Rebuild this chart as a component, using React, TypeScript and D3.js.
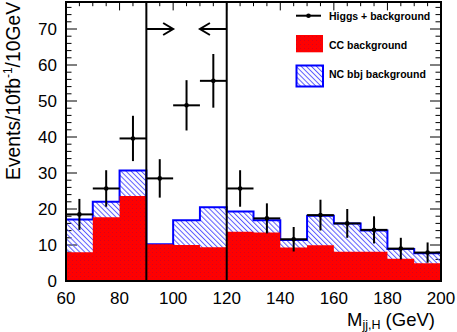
import React from "react";
import * as d3 from "d3";

const binEdges = [60, 70, 80, 90, 100, 110, 120, 130, 140, 150, 160, 170, 180, 190, 200];
const ccBackground = [8.0, 17.7, 23.6, 10.2, 10.0, 9.4, 13.7, 13.5, 9.3, 9.9, 8.1, 8.1, 6.2, 4.9];
const ncBackground = [9.1, 4.3, 7.1, 0.0, 6.9, 11.1, 5.6, 3.4, 2.1, 8.2, 7.9, 5.9, 2.7, 2.8];
const higgsPlusBkg = [18.5, 25.7, 39.6, 28.5, 48.8, 55.6, 25.7, 17.4, 11.6, 18.3, 16.0, 14.2, 9.0, 7.9];
const xTicks = [60, 80, 100, 120, 140, 160, 180, 200];
const yTicks = [0, 10, 20, 30, 40, 50, 60, 70];
const windowEdges = [90, 120];
const legendLabels = ["Higgs + background", "CC background", "NC bbj background"];

const W = 457;
const H = 332;
const L = 66, R = 441, T = 2, B = 281;

export default function App() {
  const x = d3.scaleLinear().domain([60, 200]).range([L, R]);
  const y = d3.scaleLinear().domain([0, 77.5]).range([B, T]);

  const total = ccBackground.map((c, i) => c + ncBackground[i]);

  const stepPts = (vals: number[]) => {
    const pts: [number, number][] = [];
    vals.forEach((v, i) => {
      pts.push([binEdges[i], v]);
      pts.push([binEdges[i + 1], v]);
    });
    return pts;
  };
  const area = d3
    .area<[number, number]>()
    .x((d) => x(d[0]))
    .y0(y(0))
    .y1((d) => y(d[1]));
  const line = d3
    .line<[number, number]>()
    .x((d) => x(d[0]))
    .y((d) => y(d[1]));

  const totalPts = stepPts(total);
  const outlinePts: [number, number][] = [[60, 0], ...totalPts, [200, 0]];

  const xMinor = d3.range(60, 200.01, 5);
  const yMinor = d3.range(0, 77.5, 2);

  const font = "'Liberation Sans', Arial, Helvetica, sans-serif";

  return (
    <svg width={W} height={H} style={{ position: "absolute", left: 0, top: 0, background: "#fff" }} fontFamily={font}>
      <defs>
        <pattern id="hatch" width={3.6} height={3.6} patternUnits="userSpaceOnUse" patternTransform="rotate(-45)">
          <line x1={0.5} y1={0} x2={0.5} y2={3.6} stroke="#5a5aff" strokeWidth={1} />
        </pattern>
        <pattern id="redfill" width={4} height={4} patternUnits="userSpaceOnUse">
          <rect width={4} height={4} fill="#ff0000" />
          <rect x={0} y={0} width={1} height={1} fill="#d8001c" />
          <rect x={2} y={2} width={1} height={1} fill="#e00818" />
        </pattern>
      </defs>

      {/* ticks (drawn under histograms) */}
      <g stroke="#000" strokeWidth={1}>
        {yMinor.map((v) => {
          const major = v % 10 === 0;
          const len = major ? 11 : 5.5;
          return (
            <g key={"yt" + v}>
              <line x1={L} x2={L + len} y1={y(v)} y2={y(v)} />
              <line x1={R} x2={R - len} y1={y(v)} y2={y(v)} />
            </g>
          );
        })}
        {xMinor.map((v) => {
          const major = v % 20 === 0;
          const len = major ? 8.4 : 4.2;
          return (
            <g key={"xt" + v}>
              <line x1={x(v)} x2={x(v)} y1={B} y2={B - len} />
              <line x1={x(v)} x2={x(v)} y1={T} y2={T + len} />
            </g>
          );
        })}
      </g>

      {/* NC (stacked total) hatched */}
      <path d={area(totalPts) || ""} fill="url(#hatch)" />
      <path d={line(outlinePts) || ""} fill="none" stroke="#0000ff" strokeWidth={2} />
      {/* CC red */}
      <path d={area(stepPts(ccBackground)) || ""} fill="url(#redfill)" />

      {/* window lines */}
      {windowEdges.map((e) => (
        <line key={"w" + e} x1={x(e)} x2={x(e)} y1={y(0)} y2={T} stroke="#000" strokeWidth={2} />
      ))}
      {/* arrows */}
      <g stroke="#000" strokeWidth={2} fill="none">
        <line x1={x(90)} x2={x(100)} y1={y(70)} y2={y(70)} />
        <polyline points={`${x(100) - 10},${y(70) - 6} ${x(100)},${y(70)} ${x(100) - 10},${y(70) + 6}`} />
        <line x1={x(120)} x2={x(110)} y1={y(70)} y2={y(70)} />
        <polyline points={`${x(110) + 10},${y(70) - 6} ${x(110)},${y(70)} ${x(110) + 10},${y(70) + 6}`} />
      </g>

      {/* data points */}
      <g stroke="#000" strokeWidth={2}>
        {higgsPlusBkg.map((v, i) => {
          const c = (binEdges[i] + binEdges[i + 1]) / 2;
          const e = Math.sqrt(v);
          return (
            <g key={"p" + i}>
              <line x1={x(binEdges[i])} x2={x(binEdges[i + 1])} y1={y(v)} y2={y(v)} />
              <line x1={x(c)} x2={x(c)} y1={y(v - e)} y2={y(v + e)} />
              <circle cx={x(c)} cy={y(v)} r={2.3} fill="#000" stroke="none" />
            </g>
          );
        })}
      </g>

      {/* frame */}
      <rect x={L} y={T} width={R - L} height={B - T} fill="none" stroke="#000" strokeWidth={2} />

      {/* tick labels */}
      <g fontSize={17} fill="#000">
        {yTicks.map((v) => (
          <text key={"yl" + v} x={57} y={y(v)} dy="0.36em" textAnchor="end">
            {v}
          </text>
        ))}
        {xTicks.map((v) => (
          <text key={"xl" + v} x={x(v)} y={304} textAnchor="middle">
            {v}
          </text>
        ))}
      </g>

      {/* axis titles */}
      <text x={347} y={325.5} fontSize={18.5} fill="#000">
        M
        <tspan fontSize={12.5} dy={3.5}>jj,H</tspan>
        <tspan dy={-3.5}> (GeV)</tspan>
      </text>
      <text
        transform="translate(19.5,2) rotate(-90)"
        textAnchor="end"
        fontSize={19.3}
        fill="#000"
      >
        Events/10fb
        <tspan fontSize={12} dy={-8}>-1</tspan>
        <tspan dy={8}>/10GeV</tspan>
      </text>

      {/* legend */}
      <g fontSize={10.5} fontWeight="bold" fill="#000">
        <line x1={296} x2={321} y1={15.7} y2={15.7} stroke="#000" strokeWidth={2} />
        <circle cx={308.5} cy={15.7} r={2.3} fill="#000" />
        <text x={329} y={20}>{legendLabels[0]}</text>
        <rect x={296} y={35} width={27} height={17.3} fill="url(#redfill)" />
        <text x={329} y={49.3}>{legendLabels[1]}</text>
        <rect x={296.5} y={65.5} width={26.5} height={21} fill="url(#hatch)" stroke="#0000ff" strokeWidth={2} />
        <text x={329} y={78.3}>{legendLabels[2]}</text>
      </g>
    </svg>
  );
}
